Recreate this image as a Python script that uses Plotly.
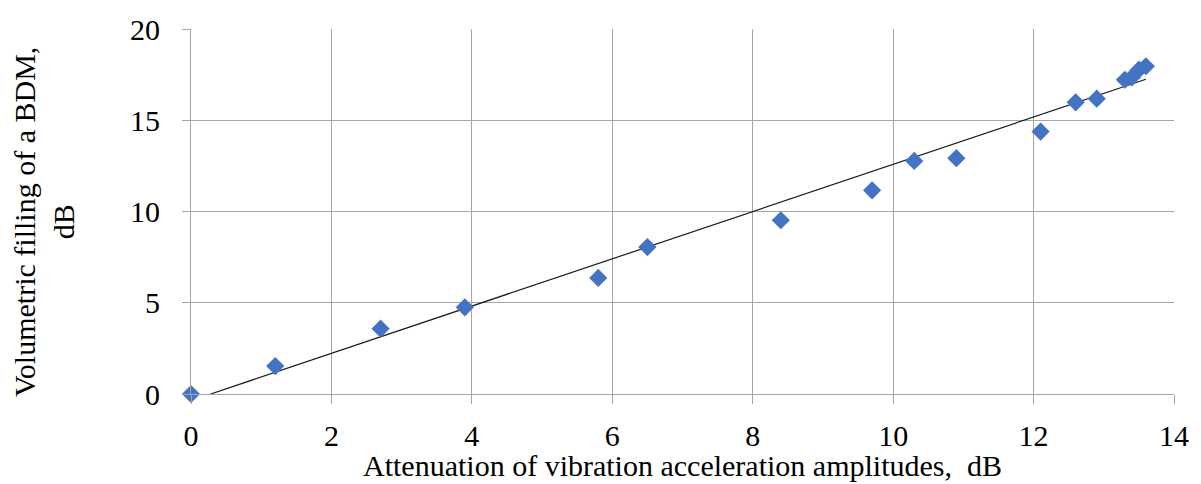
import plotly.graph_objects as go

x_vals = [0.0, 1.2, 2.7, 3.9, 5.8, 6.5, 8.4, 9.7, 10.3, 10.9, 12.1, 12.6, 12.9, 13.3, 13.4, 13.5, 13.6]
y_vals = [0.0, 1.53, 3.58, 4.75, 6.36, 8.05, 9.52, 11.16, 12.77, 12.92, 14.38, 15.98, 16.18, 17.22, 17.35, 17.77, 17.96]

# linear trendline: passes through ~(0.28, 0) and (8, 10)
trend_slope = 1.295
trend_intercept = -0.363
trend_x = [0.28, 13.6]
trend_y = [trend_slope * v + trend_intercept for v in trend_x]

x_title = "Attenuation of vibration acceleration amplitudes,\u00a0 dB"
y_title = "Volumetric filling of a BDM,<br>dB"

font_family = "Liberation Serif, Times New Roman, serif"
grid_col = "#a6a6a6"

fig = go.Figure()
fig.add_trace(go.Scatter(x=trend_x, y=trend_y, mode="lines",
                         line=dict(color="#1a1a1a", width=1.2), showlegend=False, hoverinfo="skip"))
fig.add_trace(go.Scatter(x=x_vals, y=y_vals, mode="markers", cliponaxis=False,
                         marker=dict(symbol="diamond", size=14, color="#4472C4"),
                         showlegend=False))

fig.update_layout(
    width=1201, height=484,
    margin=dict(l=191, r=18, t=29, b=90),
    paper_bgcolor="white", plot_bgcolor="white",
    font=dict(family=font_family, size=30, color="#000000"),
    xaxis=dict(range=[0, 14], dtick=2, tick0=0, showgrid=True, gridcolor=grid_col, gridwidth=1,
               zeroline=False, showline=True, linecolor=grid_col, ticks="outside", ticklen=9,
               tickcolor=grid_col, ticklabelstandoff=6),
    yaxis=dict(range=[0, 20], dtick=5, tick0=0, showgrid=True, gridcolor=grid_col, gridwidth=1,
               zeroline=False, showline=True, linecolor=grid_col, ticks="outside", ticklen=8,
               tickcolor=grid_col, ticklabelstandoff=16),
    annotations=[
        dict(text=x_title, xref="paper", yref="paper", x=0.5, y=-0.197,
             xanchor="center", yanchor="middle", showarrow=False, font=dict(size=30)),
        dict(text=y_title, xref="paper", yref="paper", x=-0.1497, y=0.471, textangle=-90,
             xanchor="center", yanchor="middle", showarrow=False, font=dict(size=30)),
    ],
)

fig.write_html("out.html")
